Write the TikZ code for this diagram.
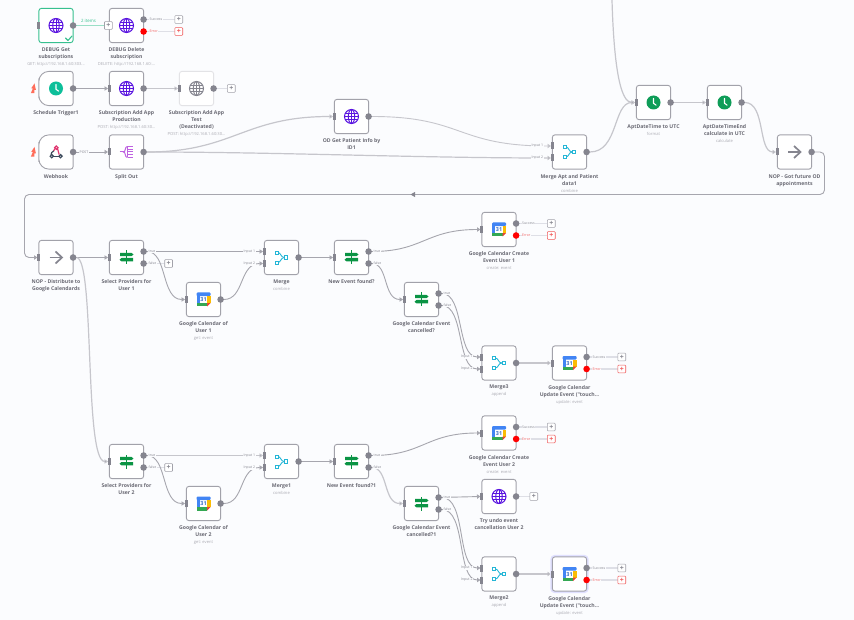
\documentclass[tikz,border=0pt]{standalone}
\usepackage{fontspec}
\setmainfont{Open Sans}
\usetikzlibrary{arrows.meta,backgrounds}
\definecolor{pagebg}{HTML}{FBFCFE}
\definecolor{edgec}{HTML}{A2A2AA}
\definecolor{portc}{HTML}{85858F}
\definecolor{wirec}{HTML}{A6A6AE}
\definecolor{wirelt}{HTML}{C6C6CC}
\definecolor{stubc}{HTML}{DEDFE6}
\definecolor{txtc}{HTML}{6A6A74}
\definecolor{subc}{HTML}{ABABB3}
\definecolor{globec}{HTML}{5A14E0}
\definecolor{clocka}{HTML}{0DBF9A}
\definecolor{clockb}{HTML}{0F9D58}
\definecolor{signc}{HTML}{0B9444}
\definecolor{mergec}{HTML}{25B6D6}
\definecolor{splitc}{HTML}{BE62E0}
\definecolor{okgreen}{HTML}{37C08F}
\definecolor{errred}{HTML}{FF0000}
\definecolor{errlt}{HTML}{F05A5A}
\definecolor{boltc}{HTML}{FF6D5A}
\definecolor{hookd}{HTML}{3C4A5C}
\definecolor{hookp}{HTML}{E0356F}
\definecolor{calblue}{HTML}{4285F4}
\definecolor{calyel}{HTML}{FBBC04}
\definecolor{calgrn}{HTML}{34A853}
\definecolor{calred}{HTML}{EA4335}
\tikzset{
  x=1pt,y=-1pt,
  boxn/.style={draw=edgec,line width=.9pt,fill=white,rounded corners=2.5pt,minimum size=34.2pt,inner sep=0pt,outer sep=0pt},
  trigbox/.style={draw=none,fill=none},
  debugbox/.style={draw=okgreen},
  offbox/.style={draw=edgec!30},
  selbox/.style={preaction={draw=blue!12,line width=4pt}},
  inport/.style={rectangle,fill=portc,draw=none,minimum width=3pt,minimum height=7pt,inner sep=0pt,outer sep=0pt},
  outdot/.style={circle,fill=portc,draw=none,minimum size=6.6pt,inner sep=0pt,outer sep=0pt},
  errdot/.style={outdot,fill=errred},
  plusbox/.style={draw=edgec,fill=white,rounded corners=.8pt,line width=.6pt,minimum size=7.8pt,inner sep=0pt,outer sep=0pt,text=portc,font=\fontsize{7}{7}\selectfont\bfseries},
  pluserr/.style={plusbox,draw=errlt,text=errlt},
  nlabel/.style={anchor=north,align=center,inner sep=0pt,text=txtc,font=\fontsize{5.15}{7}\selectfont\bfseries},
  tinyl/.style={inner sep=.6pt,fill=pagebg,text=portc,font=\fontsize{3.5}{4}\selectfont},
  tinyerr/.style={tinyl,text=errlt},
  wire/.style={draw=wirec,line width=.9pt,-{Triangle[length=3.4pt,width=4.4pt]}},
  wirel/.style={draw=wirelt,line width=1.2pt,-{Triangle[length=3.4pt,width=4.4pt,fill=portc]}},
  stub/.style={draw=stubc,line width=1.1pt},
  icon/.style={line width=1pt},
}
\newcommand{\subt}[1]{{\fontsize{4.1}{6.4}\selectfont\mdseries\color{subc}#1}}
\newcommand{\iglobe}[1][globec]{%
  \draw[icon,#1] (0,0) circle (7);
  \draw[icon,#1] (0,0) ellipse (3.2 and 7);
  \draw[icon,#1] (-7,0) -- (7,0) (-6.2,-3.4) -- (6.2,-3.4) (-6.2,3.4) -- (6.2,3.4) (0,-7) -- (0,7);}
\newcommand{\igloff}{\iglobe[portc]}
\newcommand{\iclock}[1]{%
  \fill[#1] (0,0) circle (7);
  \draw[white,line width=1.1pt,line cap=round,line join=round] (0,-4) -- (0,.8) -- (2.6,2.6);}
\newcommand{\iclka}{\iclock{clocka}}
\newcommand{\iclkb}{\iclock{clockb}}
\newcommand{\inop}{%
  \draw[portc,line width=1.7pt] (-6.5,0) -- (6,0);
  \draw[portc,line width=1.7pt] (-.5,-6) -- (6,0) -- (-.5,6);}
\newcommand{\isign}{%
  \fill[signc] (-.7,-7) rectangle (.7,7);
  \fill[signc] (-6.5,-4.6) -- (5,-4.6) -- (7,-3) -- (5,-1.4) -- (-6.5,-1.4) -- cycle;
  \fill[signc] (-7,2.2) -- (-5,.5) -- (6.5,.5) -- (6.5,3.9) -- (-5,3.9) -- cycle;}
\newcommand{\imerge}{%
  \draw[mergec,line width=.9pt] (-3.5,-5) .. controls (-.5,-5) and (-1,0) .. (3,0);
  \draw[mergec,line width=.9pt] (-3.5,5) .. controls (-.5,5) and (-1,0) .. (3,0);
  \draw[mergec,line width=.9pt,fill=white] (-6.5,-6.5) rectangle (-3.5,-3.5);
  \draw[mergec,line width=.9pt,fill=white] (-6.5,3.5) rectangle (-3.5,6.5);
  \draw[mergec,line width=.9pt,fill=white] (3,-1.6) rectangle (6.2,1.6);}
\newcommand{\isplit}{%
  \draw[splitc,line width=1pt] (-7,0) -- (-3,0);
  \draw[splitc,line width=1pt] (1,-5.5) .. controls (-2,-5.5) and (-.5,0) .. (-3,0) .. controls (-.5,0) and (-2,5.5) .. (1,5.5);
  \draw[splitc,line width=1pt] (1,-5.5) -- (6.5,-5.5) (1,-2.7) -- (6.5,-2.7) (1,0) -- (6.5,0) (1,2.7) -- (6.5,2.7) (1,5.5) -- (6.5,5.5);
  \draw[splitc,line width=1pt] (1,-5.5) -- (1,5.5);}
\newcommand{\ihook}{%
  \draw[hookd,line width=1.2pt] (-4.2,4.2) circle (1.6);
  \draw[hookd,line width=1.2pt] (4.6,4.2) circle (1.6);
  \draw[hookd,line width=1.2pt] (-2.6,4.2) -- (3,4.2);
  \draw[hookd,line width=1.2pt] (-5,2.8) .. controls (-4.6,.6) .. (-2,-1.4);
  \draw[hookp,line width=1.2pt] (.3,-4.3) circle (1.7);
  \draw[hookp,line width=1.2pt] (1.6,-3.2) .. controls (2.2,-.8) and (2.2,0) .. (3.2,2.6);
  \draw[hookp,line width=1.2pt] (-1.2,-3.4) -- (-2.2,-1.2);}
\newcommand{\igcal}{%
  \fill[white] (-7,-7) rectangle (7,7);
  \fill[calblue,rounded corners=1pt] (-7,-7) rectangle (7,-3.4);
  \fill[calblue] (-7,-5) rectangle (-3.6,3.6);
  \fill[calyel] (3.6,-3.4) rectangle (7,3.6);
  \fill[calgrn] (-7,3.6) rectangle (3.6,7);
  \fill[calred] (3.6,3.6) -- (7,3.6) -- (3.6,7) -- cycle;
  \node[inner sep=0pt,text=calblue!80!black,font=\fontsize{5.4}{5.4}\selectfont\bfseries] at (0,.2) {31};}
% \wbox[style]{name}{x}{y}{icon}{label}
\newcommand{\wbox}[6][]{%
  \begin{scope}[shift={(#3,#4)}]
    \node[boxn,#1] (#2) at (0,0) {};
    #5
    \node[nlabel] (#2-l) at (0,22) {#6};
  \end{scope}}
\newcommand{\trigshape}[1]{%
  \draw[draw=edgec,line width=.9pt,fill=white] (#1.west) [rounded corners=10pt] -- (#1.north west) [rounded corners=2.5pt] -- (#1.north east) -- (#1.south east) [rounded corners=10pt] -- (#1.south west) -- cycle;
  \fill[boltc] ([xshift=-4.4pt,yshift=5pt]#1.west) -- ([xshift=-7.6pt,yshift=.2pt]#1.west) -- ([xshift=-6pt,yshift=.2pt]#1.west) -- ([xshift=-8pt,yshift=-4.6pt]#1.west) -- ([xshift=-4.6pt,yshift=-4.6pt]#1.west) -- ([xshift=-4.6pt,yshift=-1.4pt]#1.west) -- ([xshift=-3pt,yshift=-1.4pt]#1.west) -- cycle;}
\newcommand{\pinA}[1]{\node[inport] (#1-i) at (#1.west) {};}
\newcommand{\pinB}[1]{%
  \node[inport] (#1-a) at ([yshift=6pt]#1.west) {};
  \node[inport] (#1-b) at ([yshift=-6pt]#1.west) {};
  \node[tinyl,anchor=east] (#1-la) at ([xshift=-8.5pt]#1-a.center) {Input 1};
  \node[tinyl,anchor=east] (#1-lb) at ([xshift=-8.5pt]#1-b.center) {Input 2};}
\newcommand{\poutA}[1]{\node[outdot] (#1-o) at (#1.east) {};}
\newcommand{\poutIf}[1]{%
  \node[outdot] (#1-t) at ([yshift=6pt]#1.east) {};
  \node[outdot] (#1-f) at ([yshift=-6pt]#1.east) {};
  \node[tinyl,anchor=west] (#1-lt) at ([xshift=4.2pt]#1-t.center) {true};
  \node[tinyl,anchor=west] (#1-lf) at ([xshift=4.2pt]#1-f.center) {false};}
\newcommand{\plusAfter}[2]{\node[plusbox] (#1-p) at ([xshift=#2]#1-o.center) {+};}
\newcommand{\poutOE}[1]{%
  \node[outdot] (#1-s) at ([yshift=6pt]#1.east) {};
  \node[errdot] (#1-e) at ([yshift=-6pt]#1.east) {};
  \node[plusbox] (#1-ps) at ([xshift=35.2pt]#1-s.center) {+};
  \node[pluserr] (#1-pe) at ([xshift=35.2pt]#1-e.center) {+};
  \begin{scope}[on background layer]
    \draw[stub] (#1-s) -- (#1-ps);
    \draw[stub] (#1-e) -- (#1-pe);
  \end{scope}
  \node[tinyl,anchor=west] (#1-ls) at ([xshift=5.2pt]#1-s.center) {Success};
  \node[tinyerr,anchor=west] (#1-le) at ([xshift=5.2pt]#1-e.center) {Error};}
\begin{document}
\begin{tikzpicture}
\useasboundingbox (0,0) rectangle (854,620);
\begin{scope}[on background layer]
\fill[pagebg] (0,0) rectangle (854,620);
\end{scope}
% ---------- nodes
\wbox[debugbox]{dget}{56}{25.5}{\iglobe}{DEBUG Get\\subscriptions\\\subt{GET: http://192.168.1.60:303...}}
\wbox{ddel}{126.5}{25.5}{\iglobe}{DEBUG Delete\\subscription\\\subt{DELETE: http://192.168.1.60:...}}
\wbox[trigbox]{sched}{56}{88.5}{\trigshape{sched}\iclka}{Schedule Trigger1}
\wbox{subp}{126.5}{88.5}{\iglobe}{Subscription Add App\\Production\\\subt{POST: http://192.168.1.60:30...}}
\wbox[offbox]{subt}{196.5}{88.5}{\igloff}{Subscription Add App\\Test\\(Deactivated)\\\subt{POST: http://192.168.1.60:30...}}
\wbox[trigbox]{hook}{56}{152}{\trigshape{hook}\ihook}{Webhook}
\wbox{split}{126.5}{152}{\isplit}{Split Out}
\wbox{odget}{351.5}{116.5}{\iglobe}{OD Get Patient Info by\\ID1}
\wbox{mapt}{569.5}{152}{\imerge}{Merge Apt and Patient\\data1\\\subt{combine}}
\wbox{utc}{653.5}{102.5}{\iclkb}{AptDateTime to UTC\\\subt{format}}
\wbox{utcend}{724.5}{102.5}{\iclkb}{AptDateTimeEnd\\calculate in UTC\\\subt{calculate}}
\wbox{nopa}{794.5}{152}{\inop}{NOP - Got future OD\\appointments}
\wbox{nopb}{56}{257.5}{\inop}{NOP - Distribute to\\Google Calendards}
\wbox{selu}{126.5}{257.5}{\isign}{Select Providers for\\User 1}
\wbox{calu}{203.5}{299.5}{\igcal}{Google Calendar of\\User 1\\\subt{get: event}}
\wbox{mrg}{281.5}{257.5}{\imerge}{Merge\\\subt{combine}}
\wbox{newe}{351.5}{257.5}{\isign}{New Event found?}
\wbox{crea}{499}{229.5}{\igcal}{Google Calendar Create\\Event User 1\\\subt{create: event}}
\wbox{canc}{421.5}{299.5}{\isign}{Google Calendar Event\\cancelled?}
\wbox{mrgc}{499}{363}{\imerge}{Merge3\\\subt{append}}
\wbox{upd}{569.5}{363}{\igcal}{Google Calendar\\Update Event (\textquotedbl touch...\\\subt{update: event}}
\wbox{selv}{126.5}{461.5}{\isign}{Select Providers for\\User 2}
\wbox{calv}{203.5}{503.5}{\igcal}{Google Calendar of\\User 2\\\subt{get: event}}
\wbox{mrgb}{281.5}{461.5}{\imerge}{Merge1\\\subt{combine}}
\wbox{newf}{351.5}{461.5}{\isign}{New Event found?1}
\wbox{creb}{499}{433}{\igcal}{Google Calendar Create\\Event User 2\\\subt{create: event}}
\wbox{cand}{421.5}{503.5}{\isign}{Google Calendar Event\\cancelled?1}
\wbox{undo}{499}{496.5}{\iglobe}{Try undo event\\cancellation User 2}
\wbox{mrgd}{499}{574}{\imerge}{Merge2\\\subt{append}}
\wbox[selbox]{updb}{569.5}{574}{\igcal}{Google Calendar\\Update Event (\textquotedbl touch...\\\subt{update: event}}
% ---------- ports
\pinA{dget}\poutA{dget}
\node[plusbox] (ddel-p) at ([xshift=-1pt]ddel.west) {+};
\poutOE{ddel}
\poutA{sched}
\pinA{subp}\poutA{subp}
\pinA{subt}\poutA{subt}\plusAfter{subt}{17.7pt}
\poutA{hook}
\pinA{split}\poutA{split}
\pinA{odget}\poutA{odget}
\pinB{mapt}\poutA{mapt}
\pinA{utc}\poutA{utc}
\pinA{utcend}\poutA{utcend}
\pinA{nopa}\poutA{nopa}
\pinA{nopb}\poutA{nopb}
\pinA{selu}\poutIf{selu}
\pinA{calu}\poutA{calu}
\pinB{mrg}\poutA{mrg}
\pinA{newe}\poutIf{newe}
\pinA{crea}\poutOE{crea}
\pinA{canc}\poutIf{canc}
\pinB{mrgc}\poutA{mrgc}
\pinA{upd}\poutOE{upd}
\pinA{selv}\poutIf{selv}
\pinA{calv}\poutA{calv}
\pinB{mrgb}\poutA{mrgb}
\pinA{newf}\poutIf{newf}
\pinA{creb}\poutOE{creb}
\pinA{cand}\poutIf{cand}
\pinA{undo}\poutA{undo}\plusAfter{undo}{17.7pt}
\pinB{mrgd}\poutA{mrgd}
\pinA{updb}\poutOE{updb}
\node[plusbox] (selu-p) at ([xshift=25pt]selu-f.center) {+};
\node[plusbox] (selv-p) at ([xshift=25pt]selv-f.center) {+};
\coordinate (topin) at (612,0);
\coordinate (nopr) at (824.5,152);
\coordinate (nopc) at (824.5,194.5);
\coordinate (nopd) at (24.5,194.5);
\coordinate (nope) at (24.5,257.5);
\coordinate (nopm) at (413,194.5);
\node[tinyl,text=okgreen,font=\fontsize{4.4}{5}\selectfont] (items) at (88.5,21) {2 items};
\node[tinyl,anchor=center] (postl) at (84,152) {POST};
\draw[okgreen,line width=1.1pt,line cap=round,line join=round] (65.5,38) -- (68,40.5) -- (72,36);
% ---------- connectors
\begin{scope}[on background layer]
\draw[wirel,draw=okgreen!50,-] (dget-o) -- (ddel-p);
\draw[stub] (subt-o) -- (subt-p);
\draw[stub] (undo-o) -- (undo-p);
\draw[stub] (selu-f) -- (selu-p);
\draw[stub] (selv-f) -- (selv-p);
\draw[wire] (sched-o) -- (subp-i.west);
\draw[wirel] (subp-o) -- (subt-i.west);
\draw[wire] (hook-o) -- (split-i.west);
\draw[wirel] (split-o) .. controls +(90,0) and +(-90,0) .. (odget-i.west);
\draw[wirel] (split-o) .. controls +(130,0) and +(-130,0) .. (mapt-b.west);
\draw[wire,draw=wirelt] (odget-o) .. controls +(95,0) and +(-95,0) .. (mapt-a.west);
\draw[wirel] (mapt-o) .. controls +(32,0) and +(-22,0) .. (utc-i.west);
\draw[wirel] (topin) .. controls +(2,70) and +(-14,0) .. (utc-i.west);
\draw[wirel] (utc-o) -- (utcend-i.west);
\draw[wirel] (utcend-o) .. controls +(24,0) and +(-18,0) .. (nopa-i.west);
\draw[wire,rounded corners=4.5pt] (nopa-o) -- (nopr) -- (nopc) -- (nopd) -- (nope) -- (nopb-i.west);
\fill[portc] ([xshift=-2.5pt]nopm) -- ([xshift=2pt,yshift=-2.6pt]nopm) -- ([xshift=2pt,yshift=2.6pt]nopm) -- cycle;
\draw[wire] (nopb-o) -- (selu-i.west);
\draw[wirel] (nopb-o) .. controls +(22,0) and +(-24,0) .. (selv-i.west);
\draw[wire] (selu-t) -- (mrg-a.west);
\draw[wire] (selu-t) .. controls +(24,0) and +(-24,0) .. (calu-i.west);
\draw[wire] (calu-o) .. controls +(24,0) and +(-24,0) .. (mrg-b.west);
\draw[wire] (mrg-o) -- (newe-i.west);
\draw[wire] (newe-t) .. controls +(55,0) and +(-55,0) .. (crea-i.west);
\draw[wire] (newe-f) .. controls +(20,0) and +(-20,0) .. (canc-i.west);
\draw[wire] (canc-t) .. controls +(26,0) and +(-24,0) .. (mrgc-a.west);
\draw[wire] (canc-f) .. controls +(26,0) and +(-24,0) .. (mrgc-b.west);
\draw[wirel] (mrgc-o) -- (upd-i.west);
\draw[wirel] (selv-t) -- (mrgb-a.west);
\draw[wire] (selv-t) .. controls +(24,0) and +(-24,0) .. (calv-i.west);
\draw[wire] (calv-o) .. controls +(24,0) and +(-24,0) .. (mrgb-b.west);
\draw[wire] (mrgb-o) -- (newf-i.west);
\draw[wire] (newf-t) .. controls +(55,0) and +(-55,0) .. (creb-i.west);
\draw[wirel] (newf-f) .. controls +(20,0) and +(-20,0) .. (cand-i.west);
\draw[wire] (cand-t) -- (undo-i.west);
\draw[wire] (cand-t) .. controls +(28,0) and +(-24,0) .. (mrgd-a.west);
\draw[wire] (cand-f) .. controls +(28,0) and +(-24,0) .. (mrgd-b.west);
\draw[wirel] (mrgd-o) -- (updb-i.west);
\end{scope}
\end{tikzpicture}
\end{document}
